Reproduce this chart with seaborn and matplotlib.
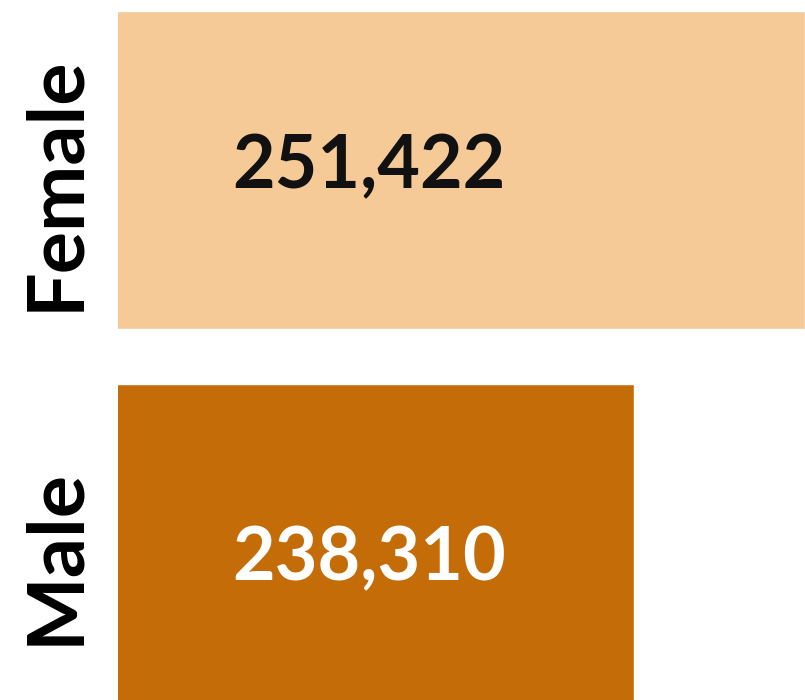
import matplotlib
matplotlib.use("Agg")
import matplotlib.pyplot as plt
import matplotlib.transforms as mtransforms
import seaborn as sns

categories = ["Female", "Male"]
values = [251422, 238310]
bar_colors = ["#F6CA97", "#C46C07"]
value_text_colors = ["#111111", "#FFFFFF"]

sns.set_theme(style="white")
plt.rcParams["font.family"] = ["Lato", "DejaVu Sans"]

fig = plt.figure(figsize=(8.05, 7), dpi=100)
ax = fig.add_axes([118 / 805, 0, 687 / 805, 1])

sns.barplot(x=values, y=categories, hue=categories, palette=bar_colors,
            orient="h", width=0.851, legend=False, saturation=1, ax=ax)

# axis does not start at zero in the original
ax.set_xlim(198700, 251422)
ax.set_ylim(1.42, -0.454)
ax.set_xticks([])
ax.set_yticks([])
ax.set_xlabel("")
ax.set_ylabel("")
sns.despine(ax=ax, left=True, bottom=True)

blend = mtransforms.blended_transform_factory(ax.transAxes, ax.transData)
baseline_off = [0.0495, 0.099]
label_off = [0.0375, 0.035]
for i, (cat, val) in enumerate(zip(categories, values)):
    ax.text(0.167, i + baseline_off[i], f"{val:,}", transform=blend,
            ha="left", va="baseline", fontsize=53, fontweight="bold",
            color=value_text_colors[i])
    ax.text(-0.0582, i + label_off[i], cat, transform=blend, rotation=90,
            rotation_mode="anchor", ha="center", va="baseline",
            fontsize=57, fontweight="bold", color="black", clip_on=False)

fig.savefig("out.png", dpi=100, facecolor="white")
